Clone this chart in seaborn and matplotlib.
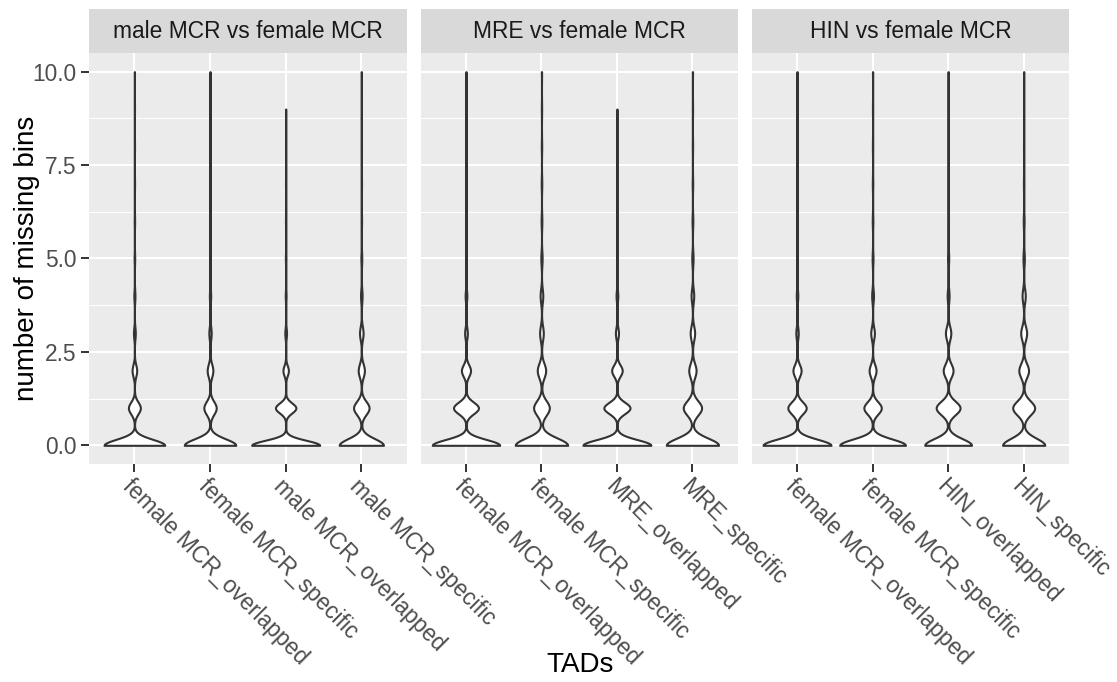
import numpy as np
import pandas as pd
import matplotlib
matplotlib.use("Agg")
import matplotlib.pyplot as plt
import seaborn as sns

# Number of missing bins per TAD: counts of TADs with 0, 1, ..., 10 missing bins
bin_values = np.arange(11)

panel_titles = ["male MCR vs female MCR", "MRE vs female MCR", "HIN vs female MCR"]

panel1_groups = ["female MCR_overlapped", "female MCR_specific",
                 "male MCR_overlapped", "male MCR_specific"]
panel1_counts = [
    [1000, 197, 76, 30, 18, 10, 8, 6, 5, 4, 3],
    [1000, 240, 110, 45, 25, 15, 10, 8, 6, 5, 4],
    [1000, 300, 80, 25, 12, 8, 6, 5, 4, 3, 0],
    [1000, 350, 140, 80, 35, 20, 12, 10, 7, 5, 4],
]

panel2_groups = ["female MCR_overlapped", "female MCR_specific",
                 "MRE_overlapped", "MRE_specific"]
panel2_counts = [
    [1000, 370, 135, 40, 25, 12, 8, 6, 5, 4, 3],
    [1000, 300, 160, 70, 50, 25, 15, 12, 9, 7, 5],
    [1000, 385, 155, 45, 25, 12, 10, 7, 5, 4, 0],
    [1000, 350, 140, 85, 50, 25, 16, 11, 8, 6, 5],
]

panel3_groups = ["female MCR_overlapped", "female MCR_specific",
                 "HIN_overlapped", "HIN_specific"]
panel3_counts = [
    [1000, 270, 120, 35, 22, 12, 9, 7, 5, 4, 3],
    [1000, 265, 105, 55, 28, 13, 9, 7, 5, 4, 3],
    [1000, 510, 210, 115, 40, 25, 15, 10, 8, 6, 5],
    [1000, 520, 230, 140, 75, 32, 20, 12, 8, 6, 5],
]

y_ticks = [0, 2.5, 5, 7.5, 10]
y_tick_labels = ["0.0", "2.5", "5.0", "7.5", "10.0"]


def expand(groups, counts):
    rows = []
    for g, c in zip(groups, counts):
        vals = np.repeat(bin_values, c)
        rows.append(pd.DataFrame({"TADs": g, "bins": vals}))
    return pd.concat(rows, ignore_index=True)


panels = [
    (panel_titles[0], panel1_groups, expand(panel1_groups, panel1_counts)),
    (panel_titles[1], panel2_groups, expand(panel2_groups, panel2_counts)),
    (panel_titles[2], panel3_groups, expand(panel3_groups, panel3_counts)),
]

plt.rcParams["font.family"] = ["Liberation Sans", "DejaVu Sans"]

W, H = 1117, 682
fig = plt.figure(figsize=(W / 100, H / 100), dpi=100)

panel_x = [(89, 406.7), (420.7, 737.7), (751.7, 1069)]
panel_top, panel_bottom = 53, 464
strip_top = 9

grey_bg = "#EBEBEB"
for (title, groups, df), (x0, x1) in zip(panels, panel_x):
    ax = fig.add_axes([x0 / W, 1 - panel_bottom / H, (x1 - x0) / W,
                       (panel_bottom - panel_top) / H])
    ax.set_facecolor(grey_bg)
    ax.set_axisbelow(True)
    sns.violinplot(data=df, x="TADs", y="bins", order=groups, ax=ax,
                   density_norm="area", cut=0, bw_method=0.12, gridsize=512,
                   inner=None, color="white", saturation=1, width=0.9,
                   linecolor="#333333", linewidth=1.5)
    ax.set_xlim(-0.6, 3.6)
    ax.set_ylim(-0.5, 10.5)
    for s in ax.spines.values():
        s.set_visible(False)
    ax.set_yticks(y_ticks)
    ax.set_yticks([1.25, 3.75, 6.25, 8.75], minor=True)
    ax.grid(which="major", color="white", linewidth=1.45)
    ax.grid(which="minor", axis="y", color="white", linewidth=0.75)
    ax.tick_params(which="minor", length=0)
    ax.tick_params(which="major", length=5.5, width=1.4, color="#333333",
                   labelcolor="#4D4D4D", labelsize=16.4)
    ax.tick_params(axis="y", pad=3.5)
    ax.tick_params(axis="x", pad=2)
    ax.set_xticks(range(len(groups)))
    ax.set_xticklabels(groups, rotation=-45, ha="left", va="top",
                       rotation_mode="anchor")
    if x0 < 100:
        ax.set_yticklabels(y_tick_labels)
    else:
        ax.set_yticklabels([])
        ax.tick_params(axis="y", length=0)
    ax.set_xlabel("")
    ax.set_ylabel("")

    sax = fig.add_axes([x0 / W, 1 - panel_top / H, (x1 - x0) / W,
                        (panel_top - strip_top) / H])
    sax.set_facecolor("#D9D9D9")
    sax.set_xticks([])
    sax.set_yticks([])
    for s in sax.spines.values():
        s.set_visible(False)
    sax.text(0.5, 0.5, title, ha="center", va="center", fontsize=16.4,
             color="#1A1A1A", transform=sax.transAxes)

fig.text(27 / W, 1 - 258.5 / H, "number of missing bins", rotation=90,
         ha="center", va="center", fontsize=20, color="black")
fig.text(580 / W, 1 - 665 / H, "TADs", ha="center", va="center",
         fontsize=20, color="black")

fig.savefig("out.png", dpi=100, facecolor="white")
